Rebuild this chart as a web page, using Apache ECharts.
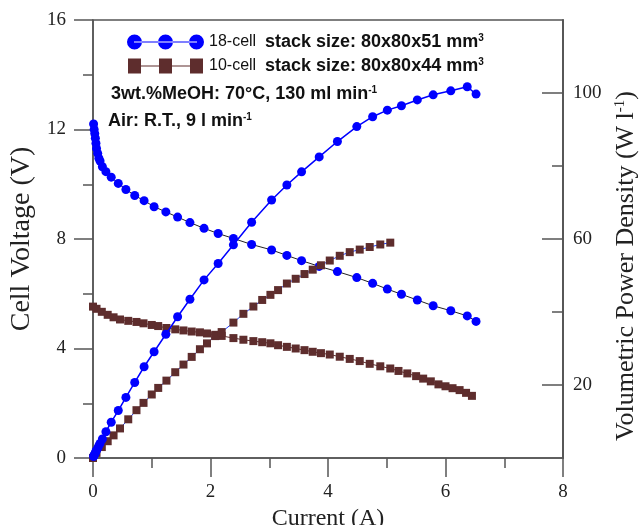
<!DOCTYPE html>
<html>
<head>
<meta charset="utf-8">
<script src="https://cdn.jsdelivr.net/npm/echarts@6/dist/echarts.min.js"></script>
<style>
  html, body { margin: 0; padding: 0; background: #ffffff; }
  #chart { width: 640px; height: 525px; }
</style>
</head>
<body>
<div id="chart"></div>
<script>
// 18-cell stack (80x80x51 mm3): current (A), cell voltage (V), volumetric power density (W/l)
const current18 = [0.01, 0.02, 0.03, 0.04, 0.05, 0.06, 0.08, 0.10, 0.12, 0.16,
  0.22, 0.31, 0.43, 0.56, 0.71, 0.87, 1.04, 1.24, 1.44, 1.65,
  1.89, 2.13, 2.39, 2.70, 3.04, 3.30, 3.55, 3.85, 4.16, 4.49,
  4.76, 5.01, 5.25, 5.52, 5.79, 6.09, 6.37, 6.52];
const voltage18 = [12.2, 12.0, 11.85, 11.68, 11.5, 11.31, 11.13, 10.95, 10.85, 10.64,
  10.46, 10.26, 10.03, 9.81, 9.59, 9.4, 9.18, 8.99, 8.8, 8.6,
  8.39, 8.2, 8.02, 7.8, 7.6, 7.4, 7.21, 7.0, 6.81, 6.59,
  6.38, 6.17, 5.98, 5.77, 5.56, 5.38, 5.19, 4.99];
const power18 = [0.4, 0.7, 1.1, 1.4, 1.8, 2.1, 2.7, 3.4, 4.0, 5.2,
  7.2, 9.8, 13.0, 16.6, 20.7, 25.0, 29.1, 33.9, 38.7, 43.5,
  48.8, 53.3, 58.4, 64.6, 70.7, 74.8, 78.4, 82.5, 86.7, 90.8,
  93.5, 95.3, 96.5, 98.1, 99.5, 100.6, 101.7, 99.7];

// 10-cell stack (80x80x44 mm3)
const current10 = [0, 0.06, 0.15, 0.25, 0.35, 0.46, 0.6, 0.74, 0.86, 1.0,
  1.11, 1.25, 1.4, 1.54, 1.68, 1.82, 1.94, 2.08, 2.19, 2.39,
  2.56, 2.73, 2.88, 3.02, 3.15, 3.3, 3.45, 3.6, 3.74, 3.88,
  4.03, 4.2, 4.37, 4.54, 4.71, 4.89, 5.06, 5.2, 5.35, 5.5,
  5.62, 5.75, 5.88, 6.0, 6.12, 6.24, 6.35, 6.45];
const voltage10 = [5.53, 5.45, 5.34, 5.23, 5.14, 5.06, 5.01, 4.97, 4.92, 4.86,
  4.82, 4.75, 4.7, 4.66, 4.62, 4.59, 4.55, 4.5, 4.46, 4.38,
  4.32, 4.27, 4.23, 4.19, 4.12, 4.06, 4.0, 3.94, 3.88, 3.83,
  3.78, 3.7, 3.62, 3.54, 3.44, 3.35, 3.27, 3.18, 3.09, 2.99,
  2.9, 2.8, 2.69, 2.62, 2.55, 2.48, 2.38, 2.27];
// power readings cover the first 37 current steps (up to 5.06 A)
const power10 = [0, 1.4, 3.0, 4.6, 6.2, 8.1, 10.6, 13.1, 15.1, 17.4,
  19.2, 21.2, 23.5, 25.6, 27.7, 29.8, 31.4, 33.4, 34.5, 37.1,
  39.5, 41.5, 43.3, 44.7, 46.0, 47.8, 49.1, 50.4, 51.6, 52.8,
  54.1, 55.4, 56.4, 57.1, 57.8, 58.5, 59.0];

// right-axis tick values
const powerMajorTicks = [20, 60, 100];
const powerMinorTicks = [40, 80];

const BLUE = '#0000ff';
const BROWN = '#5e2d2d';
const AXIS = '#555555';
const SERIF = "'Liberation Serif', 'Times New Roman', serif";
const SANS = "'Liberation Sans', Arial, sans-serif";

const pairs = (xs, ys) => ys.map((y, i) => [xs[i], y]);

const circlesIcon = 'path://M0,7.5 a7.5,7.5 0 1,0 15,0 a7.5,7.5 0 1,0 -15,0 Z ' +
  'M31,7.5 a7.5,7.5 0 1,0 15,0 a7.5,7.5 0 1,0 -15,0 Z ' +
  'M62,7.5 a7.5,7.5 0 1,0 15,0 a7.5,7.5 0 1,0 -15,0 Z M7,7 L70,7 L70,8 L7,8 Z';
const squaresIcon = 'path://M0,0 L13,0 L13,15 L0,15 Z M31,0 L44,0 L44,15 L31,15 Z ' +
  'M62,0 L75,0 L75,15 L62,15 Z M6,7 L69,7 L69,8 L6,8 Z';

const tickLine = { color: AXIS, width: 1.5 };
const labelBase = { fontFamily: SERIF, fontSize: 19, color: '#222' };

const rich = {
  n: { fontFamily: SANS, fontSize: 16, color: '#111' },
  b: { fontFamily: SANS, fontSize: 18, fontWeight: 'bold', color: '#111' },
  s: { fontFamily: SANS, fontSize: 10, fontWeight: 'bold', color: '#111', verticalAlign: 'top' }
};

const chart = echarts.init(document.getElementById('chart'), null, { renderer: 'canvas' });
chart.setOption({
  animation: false,
  backgroundColor: '#ffffff',
  grid: {
    left: 93, right: 77, top: 20, bottom: 67,
    show: true, borderColor: AXIS, borderWidth: 1.5,
    outerBoundsMode: 'none'
  },
  title: [
    {
      text: '{b|3wt.%MeOH: 70°C, 130 ml min}{s|-1}',
      left: 111, top: 85, padding: 0,
      textStyle: { rich: rich }
    },
    {
      text: '{b|Air: R.T., 9 l min}{s|-1}',
      left: 108, top: 112, padding: 0,
      textStyle: { rich: rich }
    }
  ],
  legend: {
    orient: 'vertical',
    left: 127, top: 33, padding: 0,
    itemWidth: 77, itemHeight: 15, itemGap: 6,
    selectedMode: false,
    data: [
      { name: '18-cell', icon: circlesIcon },
      { name: '10-cell', icon: squaresIcon }
    ],
    formatter: function (name) {
      return name === '18-cell'
        ? '{n|18-cell}  {b|stack size: 80x80x51 mm}{s|3}'
        : '{n|10-cell}  {b|stack size: 80x80x44 mm}{s|3}';
    },
    textStyle: { fontFamily: SANS, fontSize: 16, color: '#111', rich: rich }
  },
  xAxis: {
    type: 'value', min: 0, max: 8, interval: 2,
    axisLine: { show: true, onZero: false, lineStyle: tickLine },
    axisTick: { show: true, length: 19, lineStyle: tickLine },
    minorTick: { show: true, splitNumber: 2, length: 10, lineStyle: tickLine },
    splitLine: { show: false },
    minorSplitLine: { show: false },
    axisLabel: Object.assign({ margin: 25 }, labelBase),
    name: 'Current (A)', nameLocation: 'middle', nameGap: 47,
    nameTextStyle: { fontFamily: SERIF, fontSize: 24, color: '#222' }
  },
  yAxis: [
    {
      type: 'value', position: 'left', min: 0, max: 16, interval: 4,
      axisLine: { show: true, onZero: false, lineStyle: tickLine },
      axisTick: { show: true, length: 19, lineStyle: tickLine },
      minorTick: { show: true, splitNumber: 2, length: 10, lineStyle: tickLine },
      splitLine: { show: false },
      minorSplitLine: { show: false },
      axisLabel: Object.assign({ margin: 27 }, labelBase),
      name: 'Cell Voltage (V)', nameLocation: 'middle', nameGap: 50,
      nameTextStyle: { fontFamily: SERIF, fontSize: 28, color: '#222' }
    },
    {
      type: 'value', position: 'right', min: 0, max: 120, interval: 20,
      axisLine: { show: true, onZero: false, lineStyle: tickLine },
      axisTick: { show: true, inside: true, length: 21, lineStyle: tickLine, customValues: powerMajorTicks },
      splitLine: { show: false },
      axisLabel: Object.assign({ margin: 10, customValues: powerMajorTicks }, labelBase),
      name: 'Volumetric Power Density (W l{s|-1})', nameLocation: 'middle', nameGap: 50,
      nameTextStyle: {
        fontFamily: SERIF, fontSize: 26, color: '#222',
        padding: [0, 54, 0, 0],
        rich: { s: { fontFamily: SERIF, fontSize: 15, color: '#222', verticalAlign: 'top' } }
      }
    },
    {
      // short inner ticks between the labelled power ticks
      type: 'value', position: 'right', min: 0, max: 120, interval: 20,
      axisLine: { show: true, onZero: false, lineStyle: tickLine },
      axisTick: { show: true, inside: true, length: 11, lineStyle: tickLine, customValues: powerMinorTicks },
      splitLine: { show: false },
      axisLabel: { show: true, customValues: powerMinorTicks, formatter: function () { return ''; } }
    }
  ],
  series: [
    {
      name: '10-cell', type: 'line', yAxisIndex: 0, z: 2,
      data: pairs(current10, voltage10),
      symbol: 'rect', symbolSize: 8, showAllSymbol: true,
      itemStyle: { color: BROWN },
      lineStyle: { color: BROWN, width: 1 }
    },
    {
      name: '18-cell', type: 'line', yAxisIndex: 0, z: 3,
      data: pairs(current18, voltage18),
      symbol: 'circle', symbolSize: 9, showAllSymbol: true,
      itemStyle: { color: BLUE },
      lineStyle: { color: '#222222', width: 1 }
    },
    {
      name: '10-cell', type: 'line', yAxisIndex: 1, z: 4,
      data: pairs(current10, power10),
      symbol: 'rect', symbolSize: 8, showAllSymbol: true,
      itemStyle: { color: BROWN },
      lineStyle: { color: '#2040ff', width: 1 }
    },
    {
      name: '18-cell', type: 'line', yAxisIndex: 1, z: 5,
      data: pairs(current18, power18),
      symbol: 'circle', symbolSize: 9, showAllSymbol: true,
      itemStyle: { color: BLUE },
      lineStyle: { color: BLUE, width: 1.5 }
    }
  ]
});
</script>
</body>
</html>
